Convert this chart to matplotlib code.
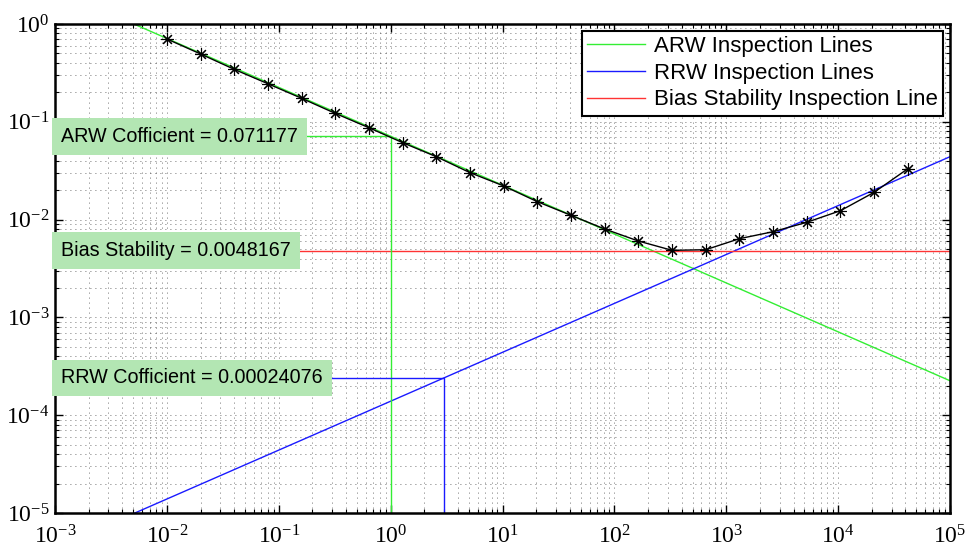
import numpy as np
import matplotlib
matplotlib.use("Agg")
import matplotlib.pyplot as plt
import matplotlib.transforms as mtransforms

# cluster times (s) and Allan deviation
tau = [0.01, 0.02, 0.04, 0.08, 0.16, 0.32, 0.64, 1.28, 2.56, 5.12, 10.24,
       20.48, 40.96, 81.92, 163.84, 327.68, 655.36, 1310.72, 2621.44,
       5242.88, 10485.76, 20971.52, 41943.04]
adev = [0.703, 0.494, 0.344, 0.245, 0.174, 0.122, 0.087, 0.0612, 0.044,
        0.0302, 0.0221, 0.01525, 0.01106, 0.00801, 0.00604, 0.00485,
        0.00492, 0.00638, 0.00752, 0.00938, 0.01233, 0.019, 0.0331]

arw_coef = 0.071177
bias_stab = 0.0048167
rrw_coef = 0.00024076
arw_tau = 1.0
rrw_tau = 3.0
line_tau = [1e-3, 1e5]

plt.rcParams['mathtext.fontset'] = 'custom'
plt.rcParams['mathtext.rm'] = 'Liberation Serif'
plt.rcParams['mathtext.it'] = 'Liberation Serif:italic'

fig = plt.figure(figsize=(9.7, 5.52), dpi=100)
ax = fig.add_axes([55 / 970, 39 / 552, 895 / 970, 489 / 552])

lt = np.array(line_tau)
green = '#33ee33'
blue = '#1a1aff'
red = '#ff3333'

# inspection lines
ax.plot(lt, arw_coef / np.sqrt(lt / arw_tau), color=green, lw=1.0,
        label='ARW Inspection Lines')
ax.plot(lt, rrw_coef * np.sqrt(lt / rrw_tau), color=blue, lw=1.0,
        label='RRW Inspection Lines')
ax.plot(lt, [bias_stab, bias_stab], color=red, lw=1.0,
        label='Bias Stability Inspection Line')

# guide lines down to the axis
ax.plot([line_tau[0], arw_tau, arw_tau], [arw_coef, arw_coef, 1e-5], color=green, lw=1.0)
ax.plot([line_tau[0], rrw_tau, rrw_tau], [rrw_coef, rrw_coef, 1e-5], color=blue, lw=1.0)

ax.plot(tau, adev, color='black', lw=1.0, marker=(8, 2, 0), ms=9, mew=0.8)

ax.set_xscale('log')
ax.set_yscale('log')
ax.set_xlim(1e-3, 1e5)
ax.set_ylim(1e-5, 1e0)

ax.xaxis.set_major_locator(matplotlib.ticker.LogLocator(base=10, numticks=20))
ax.xaxis.set_minor_locator(matplotlib.ticker.LogLocator(base=10, subs=np.arange(2, 10), numticks=20))
ax.yaxis.set_minor_locator(matplotlib.ticker.LogLocator(base=10, subs=np.arange(2, 10), numticks=20))
ax.xaxis.set_minor_formatter(matplotlib.ticker.NullFormatter())
ax.yaxis.set_minor_formatter(matplotlib.ticker.NullFormatter())

ax.grid(True, which='both', color='#444444', linestyle=(0, (1, 5)), lw=0.6)
ax.tick_params(which='both', direction='in', top=True, right=True, labelsize=17,
               labelfontfamily='Liberation Serif')
ax.tick_params(which='major', length=6, width=1.0)
ax.tick_params(which='minor', length=3, width=0.8)
ax.tick_params(axis='x', pad=9)
ax.tick_params(axis='y', pad=4)
for s in ax.spines.values():
    s.set_linewidth(1.8)

trans = mtransforms.blended_transform_factory(ax.transAxes, ax.transData)
box = dict(facecolor='#b3e6b3', edgecolor='none', boxstyle='square,pad=0.45')
labels = [(arw_coef, 'ARW Cofficient = 0.071177'),
          (bias_stab, 'Bias Stability = 0.0048167'),
          (rrw_coef, 'RRW Cofficient = 0.00024076')]
for yv, txt in labels:
    ax.text(0.007, yv, txt, transform=trans, va='center', ha='left',
            fontsize=14.2, family='Liberation Sans', bbox=box, zorder=5)

leg = ax.legend(loc='upper right', prop={'family': 'Liberation Sans', 'size': 16},
                fancybox=False, framealpha=1, edgecolor='black', handlelength=2.6,
                handletextpad=0.4, borderaxespad=0.3, labelspacing=0.25, borderpad=0.25)
leg.get_frame().set_linewidth(1.5)

fig.savefig('out.png', dpi=100)
